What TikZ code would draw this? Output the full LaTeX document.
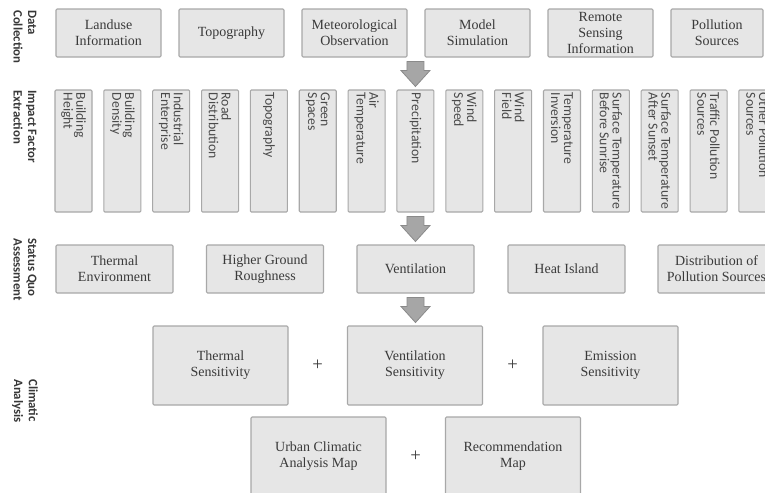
\documentclass[tikz,border=0pt]{standalone}
\usepackage{fontspec}
\setmainfont{Liberation Serif}
\newfontfamily\sansf{Carlito}
\usetikzlibrary{calc}
\definecolor{boxfill}{HTML}{E6E6E6}
\definecolor{boxline}{HTML}{A8A8A8}
\definecolor{txt}{HTML}{3A3A3A}
\definecolor{txtsans}{HTML}{4A4A4A}
\definecolor{arrfill}{HTML}{A6A6A6}
\definecolor{arrline}{HTML}{8A8A8A}
\begin{document}
\begin{tikzpicture}[x=0.75pt,y=-0.75pt,
  box/.style={draw=boxline, fill=boxfill, line width=0.8pt, rounded corners=0.8pt,
    inner sep=0pt, text=txt, align=center, font=\fontsize{10.5}{12}\selectfont},
  toprow/.style={box, minimum width=78.75pt, minimum height=36pt},
  statusbox/.style={box, minimum width=87.75pt, minimum height=36pt},
  bigbox/.style={box, minimum width=101.25pt, minimum height=59.25pt},
  tallbox/.style={draw=boxline, fill=boxfill, line width=0.8pt, rounded corners=0.8pt,
    inner sep=0pt, minimum width=27.75pt, minimum height=91.5pt},
  talltext/.style={rotate=-90, anchor=west, align=left, inner sep=0pt, text=txtsans,
    font=\sansf\fontsize{10.3}{9.6}\selectfont},
  sidelabel/.style={rotate=-90, anchor=west, align=left, inner sep=0pt, text=black!78,
    font=\sansf\bfseries\fontsize{9.6}{11}\selectfont},
  plussign/.style={inner sep=0pt, text=txt, font=\fontsize{14}{14}\selectfont},
  blockarrow/.pic={\draw[draw=arrline, fill=arrfill, line width=0.6pt, line join=miter]
    (-8.5,-12) -- (8.5,-12) -- (8.5,-3) -- (14.5,-3) -- (0,13) -- (-14.5,-3)
    -- (-8.5,-3) -- cycle;}
]
\useasboundingbox (0,0) rectangle (765,493);
\clip (0,0) rectangle (765,493);

% side labels
\node[sidelabel] (l1) at (25,10) {Data\\Collection};
\node[sidelabel] (l2) at (25,90) {Impact Factor\\Extraction};
\node[sidelabel] (l3) at (25,238) {Status Quo\\Assessment};
\node[sidelabel] (l4) at (25,379) {Climatic\\Analysis};

% row 1: data collection
\node[toprow] (landuse) at (108.5,33) {Landuse\\Information};
\node[toprow] (topo)    at (231.5,33) {Topography};
\node[toprow] (met)     at (354.5,33) {Meteorological\\Observation};
\node[toprow] (model)   at (477.5,33) {Model\\Simulation};
\node[toprow] (remote)  at (600.5,33) {Remote\\Sensing\\Information};
\node[toprow, minimum width=69pt] (pollsrc) at (717,33) {Pollution\\Sources};

% row 2: impact factors
\foreach \i/\x/\t in {0/73.5/{Building\\Height},1/122.35/{Building\\Density},
  2/171.2/{Industrial\\Enterprise},3/220.05/{Road\\Distribution},4/268.9/{Topography},
  5/317.75/{Green\\Spaces},6/366.6/{Air\\Temperature},7/415.45/{Precipitation},
  8/464.3/{Wind\\Speed},9/513.15/{Wind\\Field},10/562/{Temperature\\Inversion},
  11/610.85/{Surface Temperature\\Before Sunrise},12/659.7/{Surface Temperature\\After Sunset},
  13/708.55/{Traffic Pollution\\Sources},14/757.4/{Other Pollution\\Sources}}{
  \node[tallbox] (f\i) at (\x,151) {};
  \node[talltext] (ft\i) at ($(f\i.north)+(0,3)$) {\t};
}

% row 3: status quo
\node[statusbox] (thermenv) at (114.5,269) {Thermal\\Environment};
\node[statusbox] (rough)    at (265,269) {Higher Ground\\Roughness};
\node[statusbox] (vent)     at (415.5,269) {Ventilation};
\node[statusbox] (heat)     at (566.5,269) {Heat Island};
\node[statusbox] (distr)    at (716.5,269) {Distribution of\\Pollution Sources};

% row 4: sensitivities
\node[bigbox] (ts) at (220.5,365.5) {Thermal\\Sensitivity};
\node[bigbox] (vs) at (415,365.5) {Ventilation\\Sensitivity};
\node[bigbox] (es) at (610.5,365.5) {Emission\\Sensitivity};
\node[plussign] (p1) at ($(ts.east)!0.5!(vs.west)$) {+};
\node[plussign] (p2) at ($(vs.east)!0.5!(es.west)$) {+};

% row 5: maps
\node[bigbox] (ucam) at (318.5,456.5) {Urban Climatic\\Analysis Map};
\node[bigbox] (rec)  at (513,456.5) {Recommendation\\Map};
\node[plussign] (p3) at ($(ucam.east)!0.5!(rec.west)$) {+};

% block arrows
\coordinate (a1) at ($(f7.north |- met.south)!0.5!(f7.north)$);
\coordinate (a2) at ($(f7.south)!0.5!(vent.north)$);
\coordinate (a3) at ($(vent.south)!0.5!(vent.south |- vs.north)$);
\pic at (a1) {blockarrow};
\pic at (a2) {blockarrow};
\pic at (a3) {blockarrow};
\end{tikzpicture}
\end{document}
